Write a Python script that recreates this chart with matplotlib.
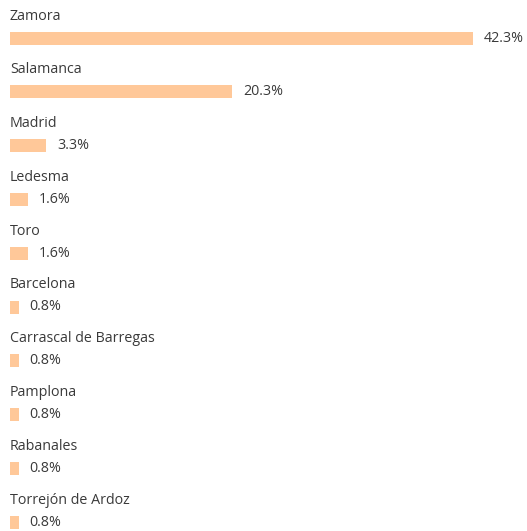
import matplotlib.pyplot as plt

# ---------------- DATA ----------------
cities = ["Zamora", "Salamanca", "Madrid", "Ledesma", "Toro", "Barcelona",
          "Carrascal de Barregas", "Pamplona", "Rabanales", "Torrejón de Ardoz"]
shares = [42.3, 20.3, 3.3, 1.6, 1.6, 0.8, 0.8, 0.8, 0.8, 0.8]

bar_color = "#FFC899"
text_color = "#3a3a3a"

# ---------------- FIGURE ----------------
W, H = 527, 531
fig = plt.figure(figsize=(W / 100, H / 100), dpi=100)
left = 10 / W
ax = fig.add_axes([left, 0, 1 - left, 1])

px_per_pct = 463 / 42.3
ax.set_xlim(0, (W - 10) / px_per_pct)
ax.set_ylim(H, 0)  # y in pixels from top
ax.axis("off")

row_h = 53.8
first_bar = 38
for i, (city, val) in enumerate(zip(cities, shares)):
    yc = first_bar + i * row_h
    ax.barh(yc, val, height=13, color=bar_color, left=0)
    ax.text(0, yc - 22, city, va="center", ha="left",
            fontsize=10.3, family="Open Sans", color=text_color)
    ax.text(val + 1.0, yc, f"{val:.1f}%", va="center", ha="left",
            fontsize=10.3, family="Open Sans", color=text_color)

fig.savefig("out.png", dpi=100)
